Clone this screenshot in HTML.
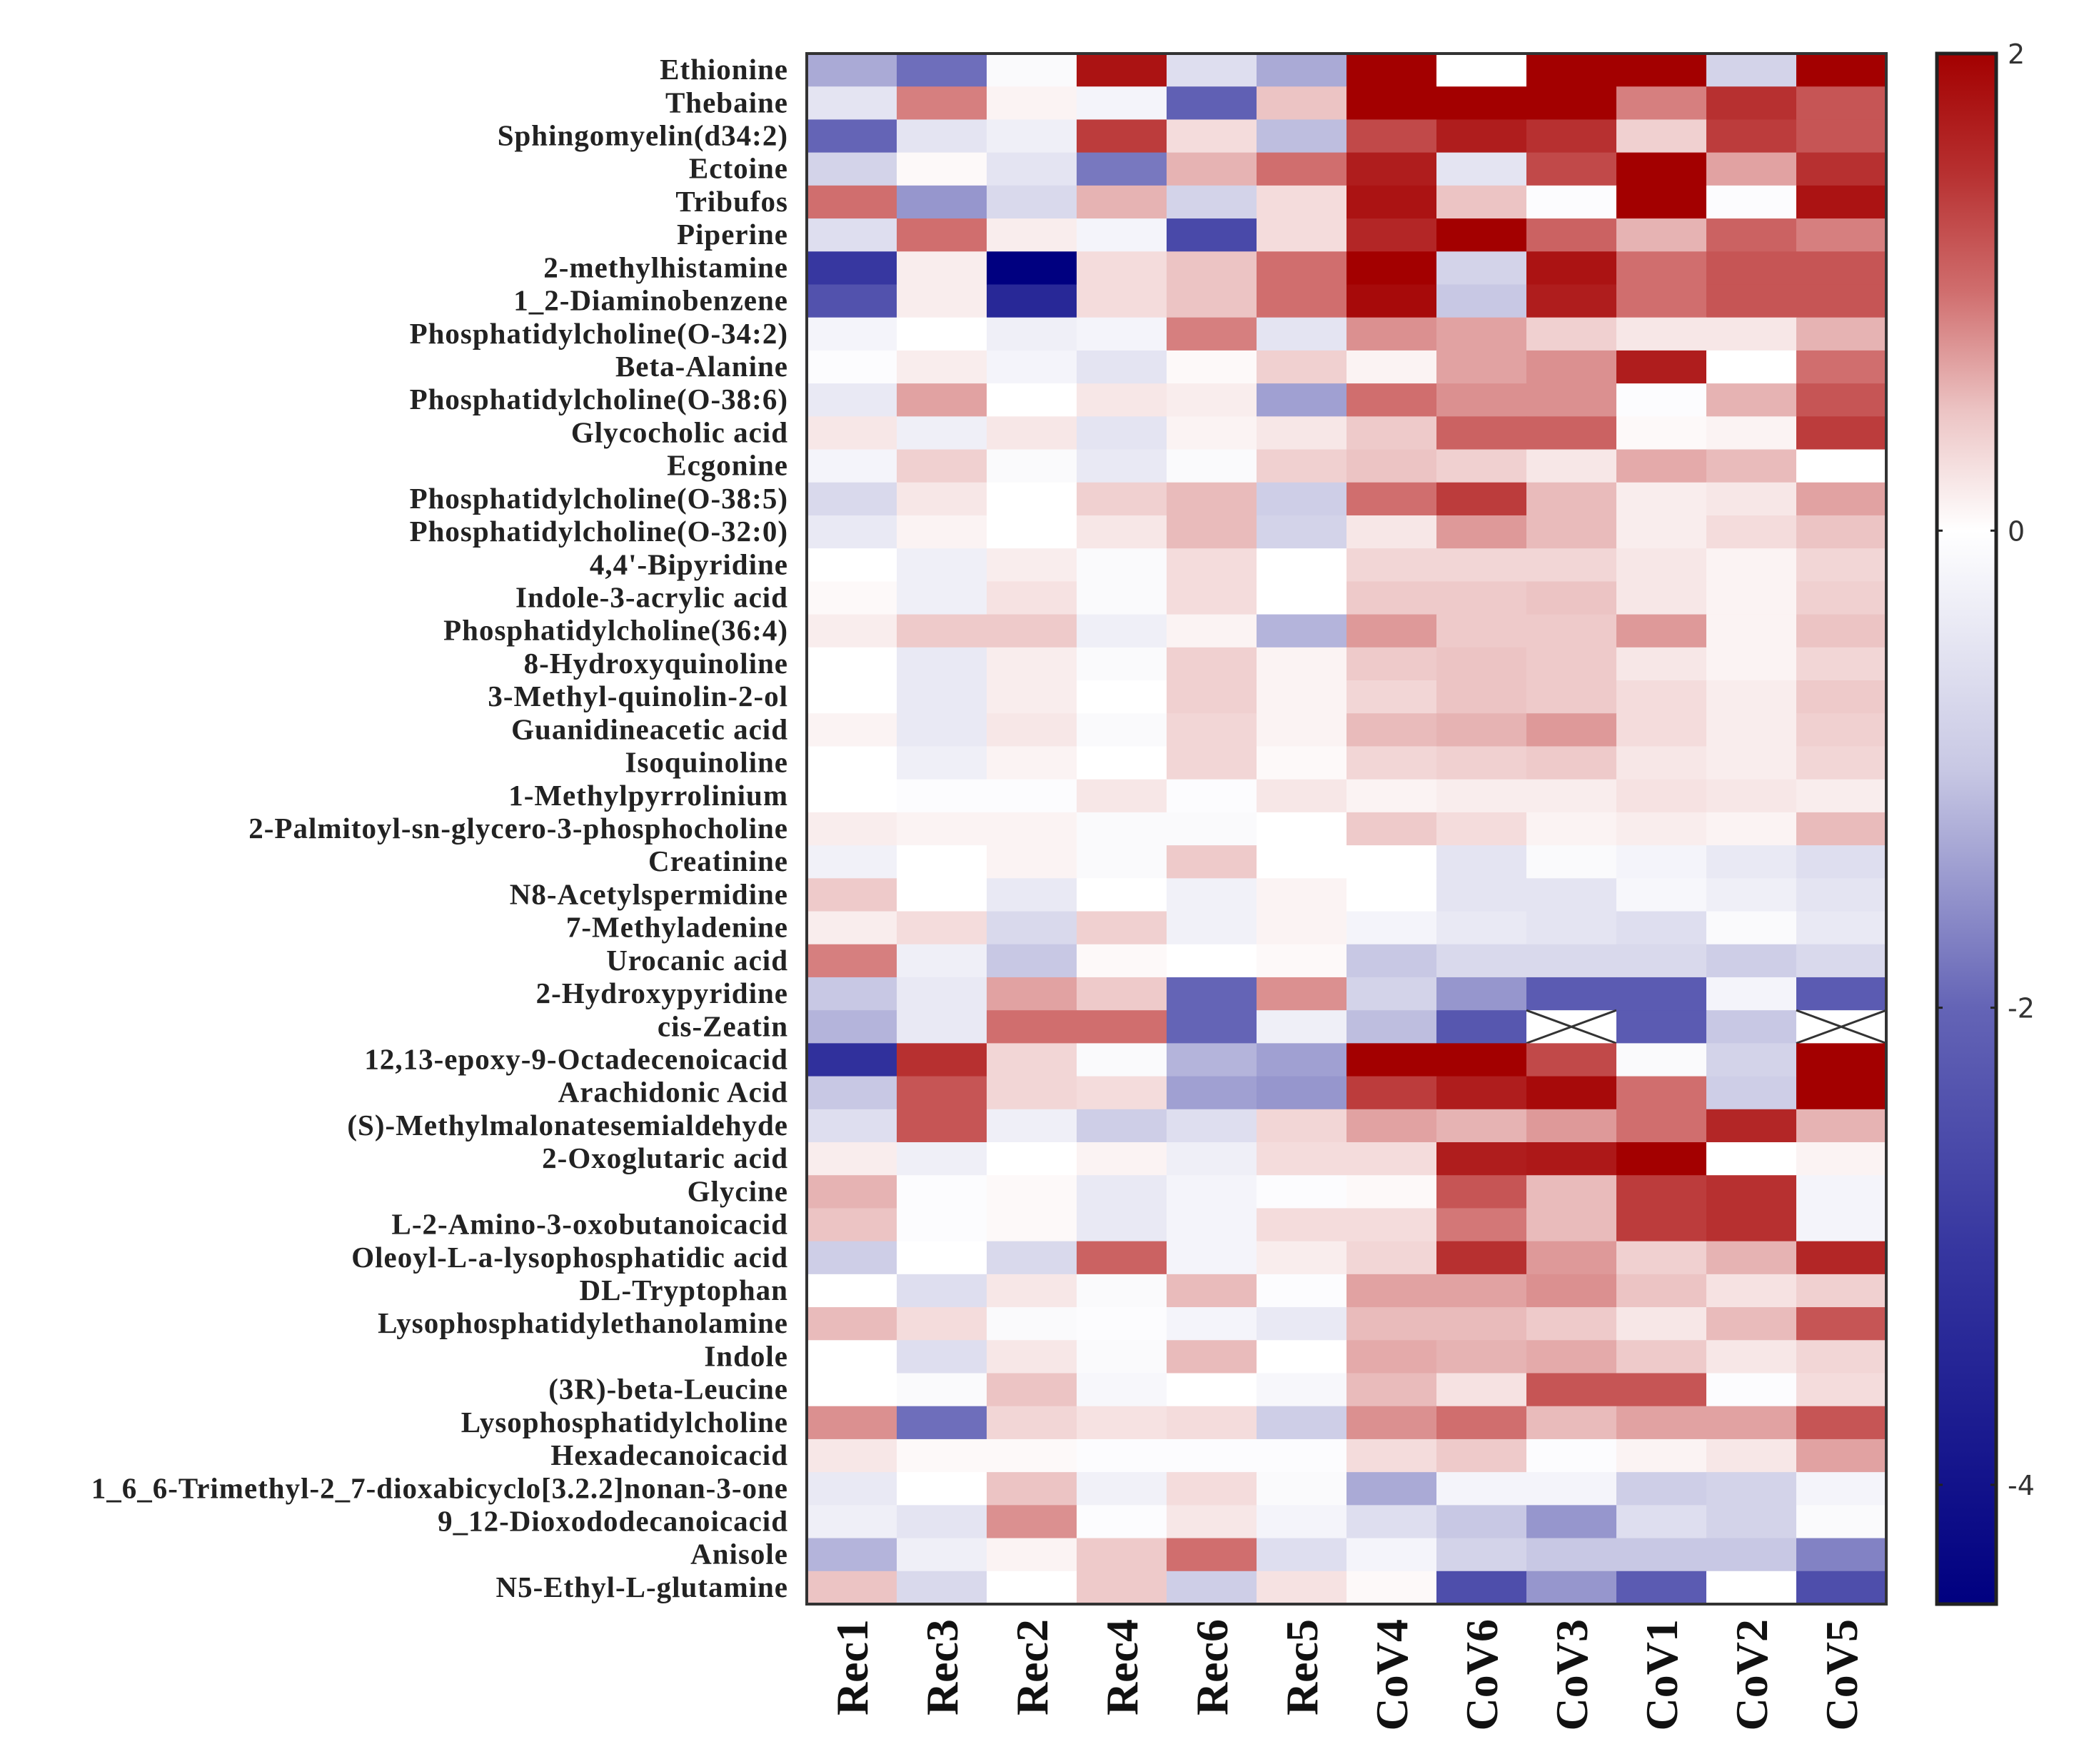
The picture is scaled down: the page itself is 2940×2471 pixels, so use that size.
<!DOCTYPE html>
<html><head><meta charset="utf-8"><style>
html,body{margin:0;padding:0;background:#fff;}
svg{display:block;}
</style></head><body>
<svg id="chart" width="2940" height="2471" xmlns="http://www.w3.org/2000/svg">
<g id="cells"></g>
<g id="rowlabels"></g>
<g id="collabels"></g>
<defs><linearGradient id="cbgrad" x1="0" y1="1" x2="0" y2="0"></linearGradient></defs>
<g id="colorbar"></g>
</svg>
<script>
const samples = ["Rec1","Rec3","Rec2","Rec4","Rec6","Rec5","CoV4","CoV6","CoV3","CoV1","CoV2","CoV5"];
const metabolites = ["Ethionine","Thebaine","Sphingomyelin(d34:2)","Ectoine","Tribufos","Piperine","2-methylhistamine","1_2-Diaminobenzene","Phosphatidylcholine(O-34:2)","Beta-Alanine","Phosphatidylcholine(O-38:6)","Glycocholic acid","Ecgonine","Phosphatidylcholine(O-38:5)","Phosphatidylcholine(O-32:0)","4,4'-Bipyridine","Indole-3-acrylic acid","Phosphatidylcholine(36:4)","8-Hydroxyquinoline","3-Methyl-quinolin-2-ol","Guanidineacetic acid","Isoquinoline","1-Methylpyrrolinium","2-Palmitoyl-sn-glycero-3-phosphocholine","Creatinine","N8-Acetylspermidine","7-Methyladenine","Urocanic acid","2-Hydroxypyridine","cis-Zeatin","12,13-epoxy-9-Octadecenoicacid","Arachidonic Acid","(S)-Methylmalonatesemialdehyde","2-Oxoglutaric acid","Glycine","L-2-Amino-3-oxobutanoicacid","Oleoyl-L-a-lysophosphatidic acid","DL-Tryptophan","Lysophosphatidylethanolamine","Indole","(3R)-beta-Leucine","Lysophosphatidylcholine","Hexadecanoicacid","1_6_6-Trimethyl-2_7-dioxabicyclo[3.2.2]nonan-3-one","9_12-Dioxododecanoicacid","Anisole","N5-Ethyl-L-glutamine"];
const values = [
[-1.3,-1.9,-0.1,1.8,-0.6,-1.3,2,0,2,2,-0.8,2],
[-0.5,0.9,0.1,-0.2,-2.1,0.5,2,2,2,0.9,1.5,1.2],
[-2.0,-0.5,-0.3,1.4,0.3,-1.1,1.3,1.7,1.5,0.4,1.4,1.2],
[-0.8,0.05,-0.5,-1.8,0.6,1.0,1.7,-0.5,1.3,2,0.7,1.5],
[1.0,-1.5,-0.7,0.6,-0.8,0.3,1.8,0.5,-0.05,2,-0.05,1.8],
[-0.6,1.0,0.15,-0.2,-2.6,0.3,1.6,2,1.1,0.6,1.1,0.9],
[-3.0,0.15,-4.5,0.3,0.5,1.0,2,-0.8,1.8,1.0,1.2,1.2],
[-2.4,0.15,-3.4,0.3,0.5,1.0,1.9,-1.0,1.7,1.0,1.2,1.2],
[-0.2,0,-0.3,-0.2,0.9,-0.5,0.8,0.7,0.4,0.2,0.2,0.6],
[-0.05,0.15,-0.2,-0.5,0.05,0.4,0.1,0.7,0.8,1.7,0,1.0],
[-0.4,0.7,0,0.2,0.15,-1.4,1.0,0.8,0.8,-0.05,0.6,1.2],
[0.2,-0.3,0.2,-0.5,0.1,0.2,0.45,1.1,1.1,0.05,0.1,1.4],
[-0.2,0.4,-0.1,-0.4,-0.1,0.4,0.5,0.4,0.2,0.65,0.55,0],
[-0.7,0.2,0,0.4,0.55,-0.9,1.0,1.4,0.55,0.15,0.2,0.7],
[-0.4,0.1,0,0.2,0.55,-0.8,0.2,0.75,0.55,0.15,0.3,0.5],
[0,-0.3,0.15,-0.1,0.3,0,0.35,0.35,0.35,0.2,0.1,0.35],
[0.05,-0.3,0.25,-0.1,0.3,0,0.45,0.45,0.5,0.2,0.1,0.4],
[0.15,0.45,0.45,-0.3,0.1,-1.2,0.75,0.45,0.45,0.75,0.1,0.5],
[0,-0.4,0.15,-0.1,0.4,0.1,0.45,0.5,0.45,0.2,0.1,0.35],
[0,-0.4,0.15,0,0.4,0.1,0.35,0.5,0.45,0.3,0.15,0.45],
[0.1,-0.4,0.2,-0.1,0.35,0.1,0.55,0.6,0.75,0.3,0.15,0.4],
[0,-0.3,0.1,0,0.35,0.05,0.35,0.4,0.45,0.2,0.15,0.35],
[0,-0.05,-0.05,0.2,-0.05,0.2,0.1,0.15,0.15,0.25,0.2,0.15],
[0.15,0.1,0.1,-0.1,-0.1,0,0.45,0.3,0.1,0.15,0.1,0.55],
[-0.25,0,0.1,-0.1,0.45,0,0,-0.5,-0.1,-0.2,-0.4,-0.6],
[0.45,0,-0.4,0,-0.25,0.1,0,-0.5,-0.5,-0.15,-0.3,-0.5],
[0.15,0.3,-0.7,0.4,-0.25,0.1,-0.2,-0.4,-0.5,-0.6,-0.1,-0.4],
[0.9,-0.3,-1.0,0.05,0,0.05,-1.0,-0.7,-0.7,-0.7,-0.9,-0.7],
[-1.0,-0.4,0.7,0.45,-2.0,0.8,-0.8,-1.5,-2.2,-2.2,-0.2,-2.2],
[-1.2,-0.4,1.0,1.0,-2.0,-0.3,-1.1,-2.3,null,-2.2,-1.0,null],
[-3.2,1.5,0.35,-0.1,-1.2,-1.4,2,2,1.3,-0.1,-0.8,2],
[-1.0,1.2,0.35,0.3,-1.4,-1.5,1.4,1.7,1.9,1.0,-0.9,2],
[-0.6,1.2,-0.3,-0.9,-0.6,0.35,0.7,0.6,0.75,1.0,1.6,0.6],
[0.15,-0.3,0,0.1,-0.3,0.3,0.3,1.7,1.75,2,0,0.1],
[0.6,-0.05,0.05,-0.4,-0.2,-0.05,0.05,1.2,0.55,1.4,1.5,-0.2],
[0.5,-0.05,0.05,-0.4,-0.2,0.3,0.3,0.95,0.55,1.4,1.5,-0.2],
[-0.9,0,-0.7,1.1,-0.2,0.15,0.35,1.5,0.75,0.4,0.6,1.6],
[0,-0.6,0.2,-0.1,0.55,-0.05,0.7,0.7,0.8,0.5,0.25,0.4],
[0.55,0.3,-0.1,-0.05,-0.2,-0.4,0.55,0.55,0.45,0.2,0.55,1.2],
[0,-0.6,0.2,-0.1,0.55,0,0.65,0.6,0.65,0.45,0.2,0.35],
[0,-0.1,0.5,-0.15,0,-0.15,0.55,0.25,1.2,1.2,-0.05,0.3],
[0.8,-1.9,0.35,0.25,0.3,-0.9,0.8,1.0,0.55,0.7,0.7,1.2],
[0.2,0.05,0.05,-0.05,-0.05,-0.05,0.3,0.45,-0.05,0.1,0.2,0.7],
[-0.4,0,0.5,-0.25,0.3,-0.1,-1.3,-0.2,-0.2,-0.9,-0.8,-0.2],
[-0.3,-0.5,0.8,-0.05,0.2,-0.2,-0.6,-1.0,-1.5,-0.6,-0.8,-0.1],
[-1.2,-0.3,0.1,0.45,1.0,-0.6,-0.2,-0.8,-1.0,-1.0,-1.0,-1.7],
[0.5,-0.7,0,0.45,-0.9,0.25,0.05,-2.5,-1.5,-2.2,0,-2.5]
];
const cbTicks = [2,0,-2,-4];
const vmin = -4.5, vmax = 2;

const NS = "http://www.w3.org/2000/svg";
const X0 = 1130, X1 = 2642, Y0 = 75, Y1 = 2247;
const cw = (X1 - X0) / samples.length, rh = (Y1 - Y0) / metabolites.length;
const xPos = i => X0 + i * cw;
const yPos = j => Y0 + j * rh;
const stops = [[-4.5,[0,0,128]],[-3,[55,55,160]],[-2,[100,100,182]],[-1,[200,200,228]],[0,[255,255,255]],[0.5,[236,196,196]],[1,[208,110,110]],[1.5,[183,48,48]],[2,[163,0,0]]];
function color(v){
  v = Math.max(vmin, Math.min(vmax, v));
  for (let k=0;k<stops.length-1;k++){
    const [a,ca]=stops[k],[b,cb]=stops[k+1];
    if (v>=a && v<=b){const t=(v-a)/(b-a);
      return "rgb("+ca.map((c,i)=>Math.round(c+(cb[i]-c)*t)).join(",")+")";}
  }
  return "rgb(163,0,0)";
}
const cells = document.getElementById("cells");
values.forEach((row,j)=>row.forEach((v,i)=>{
  const r = document.createElementNS(NS,"rect");
  r.setAttribute("x",xPos(i)); r.setAttribute("y",yPos(j));
  r.setAttribute("width",cw+0.5); r.setAttribute("height",rh+0.5);
  r.setAttribute("fill", v===null ? "#fff" : color(v));
  
  
  cells.appendChild(r);
  if (v===null){
    [[0,0,1,1],[1,0,0,1]].forEach(d=>{
      const l=document.createElementNS(NS,"line");
      l.setAttribute("x1",xPos(i)+d[0]*cw); l.setAttribute("y1",yPos(j)+d[1]*rh);
      l.setAttribute("x2",xPos(i)+d[2]*cw); l.setAttribute("y2",yPos(j)+d[3]*rh);
      l.setAttribute("stroke","#333"); l.setAttribute("stroke-width","3");
      
      
      cells.appendChild(l);
    });
  }
}));
const frame = document.createElementNS(NS,"rect");
frame.setAttribute("x",X0); frame.setAttribute("y",Y0);
frame.setAttribute("width",X1-X0); frame.setAttribute("height",Y1-Y0);
frame.setAttribute("fill","none"); frame.setAttribute("stroke","#333"); frame.setAttribute("stroke-width","4");


cells.appendChild(frame);

const rl = document.getElementById("rowlabels");
metabolites.forEach((m,j)=>{
  const t=document.createElementNS(NS,"text");
  t.setAttribute("x",1104); t.setAttribute("y",yPos(j)+rh/2+13);
  t.setAttribute("text-anchor","end");
  t.setAttribute("font-family","'Liberation Serif', serif");
  t.setAttribute("font-weight","bold"); t.setAttribute("font-size","41");
  t.setAttribute("letter-spacing","1");
  t.setAttribute("fill","#222");
  t.textContent=m;
  
  
  rl.appendChild(t);
});
const cl = document.getElementById("collabels");
samples.forEach((s,i)=>{
  const cx = xPos(i)+cw/2+22, cy = 2268;
  const t=document.createElementNS(NS,"text");
  t.setAttribute("x",cx); t.setAttribute("y",cy);
  t.setAttribute("transform","rotate(-90 "+cx+" "+cy+")");
  t.setAttribute("text-anchor","end");
  t.setAttribute("font-family","'Liberation Serif', serif");
  t.setAttribute("font-weight","bold"); t.setAttribute("font-size","64");
  t.setAttribute("fill","#111");
  t.textContent=s;
  
  
  cl.appendChild(t);
});

const grad = document.getElementById("cbgrad");
stops.forEach(([v,c])=>{
  const st=document.createElementNS(NS,"stop");
  st.setAttribute("offset",(v-vmin)/(vmax-vmin));
  st.setAttribute("stop-color","rgb("+c.join(",")+")");
  grad.appendChild(st);
});
const cb = document.getElementById("colorbar");
const CBX0=2713, CBX1=2796;
const cbr=document.createElementNS(NS,"rect");
cbr.setAttribute("x",CBX0); cbr.setAttribute("y",Y0); cbr.setAttribute("width",CBX1-CBX0); cbr.setAttribute("height",Y1-Y0);
cbr.setAttribute("fill","url(#cbgrad)"); cbr.setAttribute("stroke","#222"); cbr.setAttribute("stroke-width","5");


cb.appendChild(cbr);
const cbY = v => Y0 + (vmax - v)/(vmax - vmin)*(Y1-Y0);
cbTicks.forEach(v=>{
  [[CBX0,CBX0+8],[CBX1-8,CBX1]].forEach(p=>{
    const l=document.createElementNS(NS,"line");
    l.setAttribute("x1",p[0]); l.setAttribute("x2",p[1]); l.setAttribute("y1",cbY(v)); l.setAttribute("y2",cbY(v));
    l.setAttribute("stroke","#222"); l.setAttribute("stroke-width","3");
    
    
    cb.appendChild(l);
  });
  const t=document.createElementNS(NS,"text");
  t.setAttribute("x",2812); t.setAttribute("y",cbY(v)+14);
  t.setAttribute("font-family","'DejaVu Sans', sans-serif"); t.setAttribute("font-size","38");
  t.setAttribute("fill","#333");
  t.textContent=String(v);
  
  
  cb.appendChild(t);
});
</script>
</body></html>
